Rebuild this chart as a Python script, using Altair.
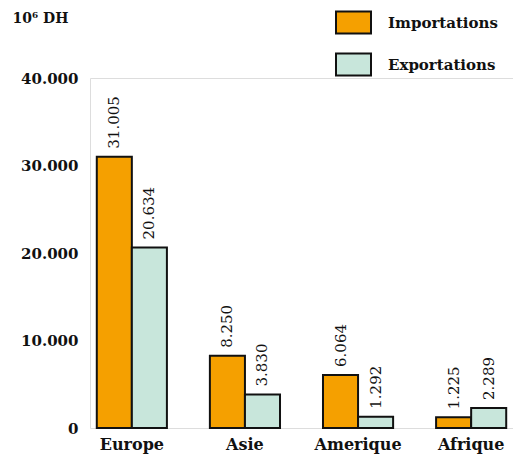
import altair as alt
import pandas as pd

regions = ["Europe", "Asie", "Amerique", "Afrique"]
importations = [31005, 8250, 6064, 1225]
exportations = [20634, 3830, 1292, 2289]
series = ["Importations", "Exportations"]
colors = ["#F5A000", "#C8E6DB"]
y_ticks = [0, 10000, 20000, 30000, 40000]

rows = []
for r, i, e in zip(regions, importations, exportations):
    rows.append({"region": r, "serie": series[0], "value": i})
    rows.append({"region": r, "serie": series[1], "value": e})
df = pd.DataFrame(rows)
df["label"] = df["value"].map(lambda v: f"{v:,}".replace(",", "."))

font = "DejaVu Serif"

x = alt.X("region:N", sort=regions, title=None,
          scale=alt.Scale(paddingInner=0.38, paddingOuter=0.06),
          axis=alt.Axis(labelAngle=0, domain=False, ticks=False, labelPadding=8,
                        labelFont=font, labelFontSize=16, labelFontWeight="bold",
                        labelColor="#111"))
xo = alt.XOffset("serie:N", sort=series)
y = alt.Y("value:Q", scale=alt.Scale(domain=[0, 40000], nice=False),
          axis=alt.Axis(values=y_ticks, grid=False, domain=False, ticks=False,
                        labelExpr="replace(format(datum.value, ',d'), ',', '.')",
                        labelFont=font, labelFontSize=15, labelFontWeight="bold",
                        labelColor="#111", labelPadding=12,
                        title="10⁶ DH", titleAngle=0, titleX=-78, titleY=-60,
                        titleAlign="left", titleBaseline="middle",
                        titleFont=font, titleFontSize=14, titleFontWeight="bold",
                        titleColor="#111"))

bars = alt.Chart(df).mark_bar(stroke="#111", strokeWidth=2).encode(
    x=x, xOffset=xo, y=y,
    color=alt.Color("serie:N", sort=series,
                    scale=alt.Scale(domain=series, range=colors),
                    legend=alt.Legend(title=None, orient="none", legendX=245, legendY=-74,
                                      symbolType="M-1,-0.63H1V0.63H-1Z", symbolSize=1225,
                                      symbolStrokeColor="#111", symbolStrokeWidth=2,
                                      rowPadding=8, labelOffset=16, padding=0,
                                      labelFont=font, labelFontSize=15, labelFontWeight="bold",
                                      labelColor="#111")),
)

labels = alt.Chart(df).mark_text(angle=270, align="left", baseline="middle", dx=8,
                                 font=font, fontSize=15, color="#111").encode(
    x=alt.X("region:N", sort=regions), xOffset=xo, y=alt.Y("value:Q"), text="label:N"
)

chart = (bars + labels).properties(
    width=423, height=350,
    autosize=alt.AutoSizeParams(type="none"),
    padding={"left": 82, "top": 70, "right": 0, "bottom": 31},
).configure_view(stroke=None).configure(background="white")

chart.save("out.html", embed_options={"renderer": "svg", "actions": False})
